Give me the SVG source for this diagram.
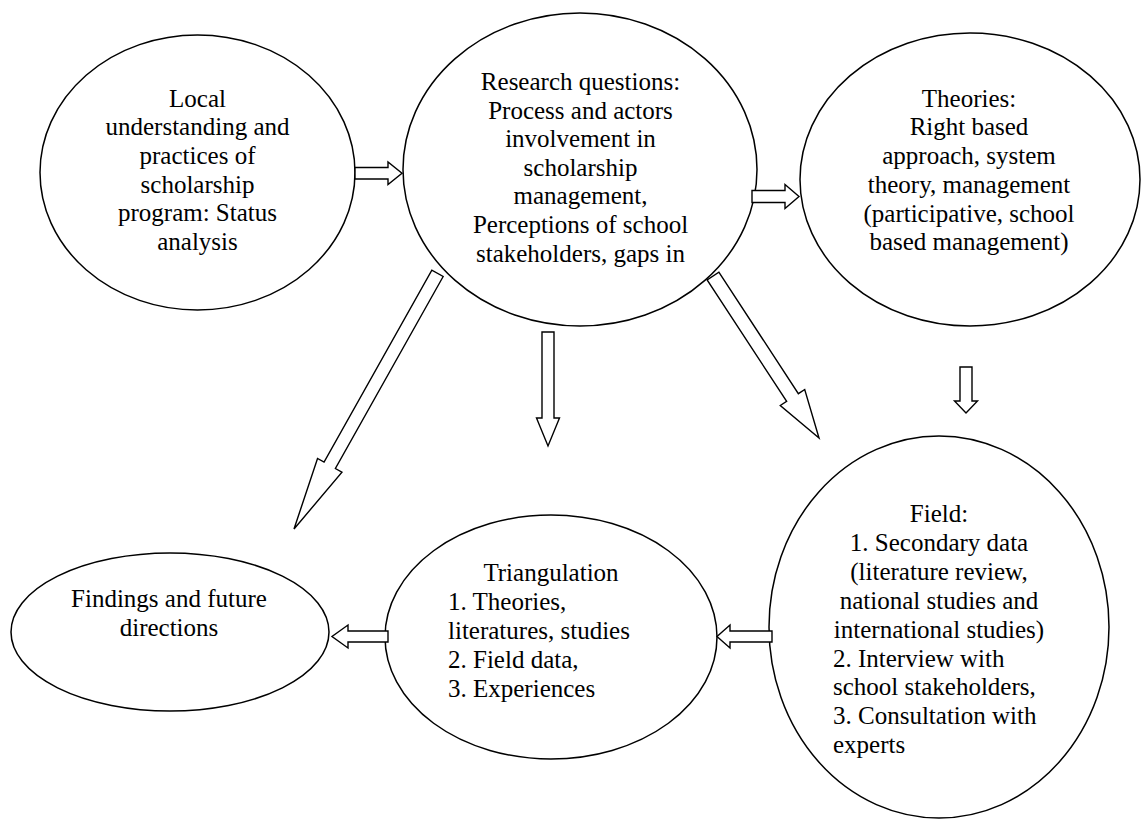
<svg xmlns="http://www.w3.org/2000/svg" width="1141" height="819" viewBox="0 0 1141 819">
<style>
.n{fill:#fff;stroke:#000;stroke-width:1.5}
.a{fill:#fff;stroke:#000;stroke-width:1.4;stroke-linejoin:miter}
text{font-family:"Liberation Serif","Times New Roman",serif;font-size:25px;fill:#000}
.c{text-anchor:middle}
</style>
<rect width="1141" height="819" fill="#fff"/>
<g id="local">
<ellipse class="n" cx="197.5" cy="172.5" rx="157.5" ry="137.5"/>
<text class="c" x="197.5" y="106.5">Local</text>
<text class="c" x="197.5" y="135.2">understanding and</text>
<text class="c" x="197.5" y="163.9">practices of</text>
<text class="c" x="197.5" y="192.6">scholarship</text>
<text class="c" x="197.5" y="221.3">program: Status</text>
<text class="c" x="197.5" y="250">analysis</text>
</g>
<g id="research">
<ellipse class="n" cx="580" cy="169.5" rx="177" ry="156.5"/>
<text class="c" x="580.5" y="90">Research questions:</text>
<text class="c" x="580.5" y="118.6">Process and actors</text>
<text class="c" x="580.5" y="147.2">involvement in</text>
<text class="c" x="580.5" y="175.8">scholarship</text>
<text class="c" x="580.5" y="204.4">management,</text>
<text class="c" x="580.5" y="233">Perceptions of school</text>
<text class="c" x="580.5" y="261.6">stakeholders, gaps in</text>
</g>
<g id="theories">
<ellipse class="n" cx="970" cy="179.5" rx="170" ry="146.5"/>
<text class="c" x="969" y="106.7">Theories:</text>
<text class="c" x="969" y="135.4">Right based</text>
<text class="c" x="969" y="164.1">approach, system</text>
<text class="c" x="969" y="192.8">theory, management</text>
<text class="c" x="969" y="221.5">(participative, school</text>
<text class="c" x="969" y="250.2">based management)</text>
</g>
<g id="field">
<ellipse class="n" cx="939" cy="627" rx="170" ry="191"/>
<text class="c" x="939" y="522">Field:</text>
<text class="c" x="939" y="550.9">1. Secondary data</text>
<text class="c" x="939" y="579.8">(literature review,</text>
<text class="c" x="939" y="608.7">national studies and</text>
<text class="c" x="939" y="637.6">international studies)</text>
<text x="833" y="666.5">2. Interview with</text>
<text x="833" y="695.4">school stakeholders,</text>
<text x="833" y="724.3">3. Consultation with</text>
<text x="833" y="753.2">experts</text>
</g>
<g id="triangulation">
<ellipse class="n" cx="551" cy="637" rx="166" ry="122"/>
<text class="c" x="551" y="581">Triangulation</text>
<text x="448" y="609.9">1. Theories,</text>
<text x="448" y="638.8">literatures, studies</text>
<text x="448" y="667.7">2. Field data,</text>
<text x="448" y="696.6">3. Experiences</text>
</g>
<g id="findings">
<ellipse class="n" cx="170" cy="632" rx="159" ry="79"/>
<text class="c" x="169" y="607">Findings and future</text>
<text class="c" x="169" y="636">directions</text>
</g>
<g id="connectors">
<polygon class="a" points="355,167.5 388,167.5 388,162 402,173.3 388,184.6 388,179 355,179"/>
<polygon class="a" points="752,190.5 785,190.5 785,184.5 799,196.5 785,208.5 785,202.5 752,202.5"/>
<polygon class="a" points="542,332 554,332 554,418 559.5,418 548,446 536.5,418 542,418"/>
<polygon class="a" points="960,367 972,367 972,401 977.5,401 966,413 954.5,401 960,401"/>
<polygon class="a" points="388,631 348,631 348,625 332,636.5 348,648 348,642 388,642"/>
<polygon class="a" points="772,631 730,631 730,625 717,636.5 730,648 730,642 772,642"/>
<polygon class="a" transform="translate(437.5,273.3) rotate(119.3)" points="0,-6.5 220.2,-6.5 220.2,-14 293.2,0 220.2,14 220.2,6.5 0,6.5"/>
<polygon class="a" transform="translate(713,276) rotate(56.8)" points="0,-7 145.2,-7 145.2,-14.6 193.6,0 145.2,14.6 145.2,7 0,7"/>
</g>
</svg>
